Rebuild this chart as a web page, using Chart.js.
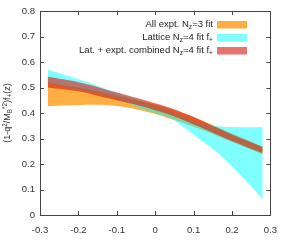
<!DOCTYPE html>
<html><head><meta charset="utf-8">
<script src="https://cdn.jsdelivr.net/npm/chart.js@4"></script>
<style>html,body{margin:0;padding:0;background:#fff}</style>
</head><body>
<canvas id="c" width="287" height="247"></canvas>
<script>
// ---- data ----
const z = [-0.28,-0.24,-0.20,-0.16,-0.12,-0.08,-0.04,0.00,0.04,0.08,0.12,0.16,0.20,0.24,0.28];
const exptLow  = [0.426,0.429,0.431,0.432,0.430,0.424,0.412,0.396,0.377,0.357,0.335,0.311,0.286,0.262,0.238];
const exptHigh = [0.520,0.510,0.500,0.488,0.474,0.461,0.448,0.434,0.416,0.395,0.372,0.346,0.320,0.294,0.268];
const latLow   = [0.516,0.505,0.493,0.480,0.466,0.445,0.420,0.400,0.380,0.338,0.292,0.248,0.190,0.128,0.062];
const latHigh  = [0.571,0.552,0.532,0.512,0.491,0.470,0.450,0.428,0.405,0.380,0.358,0.348,0.345,0.344,0.344];
const combLow  = [0.500,0.493,0.485,0.472,0.457,0.443,0.428,0.411,0.392,0.368,0.343,0.316,0.290,0.266,0.243];
const combHigh = [0.542,0.532,0.521,0.506,0.488,0.473,0.456,0.438,0.420,0.397,0.371,0.343,0.316,0.291,0.266];
const xTickVals = [-0.3,-0.2,-0.1,0,0.1,0.2,0.3];
const yTickVals = [0,0.1,0.2,0.3,0.4,0.5,0.6,0.7,0.8];
const legendLabels = [
  [["All expt. N",0],["z",-1],["=3 fit",0]],
  [["Lattice N",0],["z",-1],["=4 fit f",0],["+",-1]],
  [["Lat. + expt. combined N",0],["z",-1],["=4 fit f",0],["+",-1]]
];
const yTitle = [["(1-q",0],["2",1],["/M",0],["B",-1],["*2",1],[")f",0],["+",-1],["(z)",0]];

// ---- styles ----
const C_EXPT = 'rgba(255,165,45,0.9)';
const C_LAT  = 'rgba(0,255,255,0.5)';
const C_COMB = 'rgba(215,30,20,0.62)';
const FONT = 'Liberation Sans, Arial, sans-serif';
const pts = arr => arr.map((v,i)=>({x:z[i],y:v}));
function band(low, high, col, idx){
  return [
    {data:pts(low), borderWidth:0, pointRadius:0, fill:false, backgroundColor:col, tension:0.3},
    {data:pts(high), borderWidth:0, pointRadius:0, fill:{target:idx}, backgroundColor:col, tension:0.3}
  ];
}
const fmt = v => { const r = Math.round(v*10)/10; return r===0 ? '0' : String(r); };

function drawRich(ctx, segs, x, y, size, align){
  const small = size*0.7;
  let w = 0;
  segs.forEach(([t,k])=>{ ctx.font = (k? small: size)+'px '+FONT; w += ctx.measureText(t).width; });
  let cx = align==='right' ? x - w : (align==='center' ? x - w/2 : x);
  ctx.textBaseline = 'middle'; ctx.textAlign = 'left';
  segs.forEach(([t,k])=>{
    ctx.font = (k? small: size)+'px '+FONT;
    const dy = k===1 ? -size*0.35 : (k===-1 ? size*0.3 : 0);
    ctx.fillText(t, cx, y+dy);
    cx += ctx.measureText(t).width;
  });
}

const decor = {
  id:'decor',
  afterDraw(chart){
    const ctx = chart.ctx, a = chart.chartArea, xs = chart.scales.x, ys = chart.scales.y;
    ctx.save();
    ctx.strokeStyle = '#444'; ctx.lineWidth = 1;
    ctx.strokeRect(Math.round(a.left)+0.5, Math.round(a.top)+0.5, Math.round(a.right-a.left), Math.round(a.bottom-a.top));
    const tl = 4;
    ctx.beginPath();
    xTickVals.forEach(v=>{ const px = Math.round(xs.getPixelForValue(v))+0.5;
      ctx.moveTo(px,a.bottom); ctx.lineTo(px,a.bottom-tl);
      ctx.moveTo(px,a.top); ctx.lineTo(px,a.top+tl); });
    yTickVals.forEach(v=>{ const py = Math.round(ys.getPixelForValue(v))+0.5;
      ctx.moveTo(a.left,py); ctx.lineTo(a.left+tl,py);
      ctx.moveTo(a.right,py); ctx.lineTo(a.right-tl,py); });
    ctx.stroke();
    // legend
    const cols = [C_EXPT, C_LAT, C_COMB];
    const rowsY = [24.5, 37.5, 50.5];
    ctx.fillStyle = '#222';
    legendLabels.forEach((segs,i)=>{
      ctx.fillStyle = cols[i];
      ctx.fillRect(217, rowsY[i]-3.5, 30, 7.5);
      ctx.fillStyle = '#222';
      drawRich(ctx, segs, 213, rowsY[i], 9.5, 'right');
    });
    // y title
    ctx.translate(8, 113); ctx.rotate(-Math.PI/2);
    ctx.fillStyle = '#333';
    drawRich(ctx, yTitle, 0, 0, 9, 'center');
    ctx.restore();
  }
};

new Chart(document.getElementById('c'), {
  type:'line',
  data:{ datasets:[
    ...band(combLow, combHigh, C_COMB, 0),
    ...band(latLow, latHigh, C_LAT, 2),
    ...band(exptLow, exptHigh, C_EXPT, 4)
  ]},
  options:{
    responsive:false, animation:false, devicePixelRatio:1,
    layout:{padding:{top:11, right:7, left:0, bottom:0}},
    plugins:{legend:{display:false}, tooltip:{enabled:false}},
    scales:{
      x:{type:'linear', min:-0.3, max:0.3,
         afterBuildTicks: s => { s.ticks = xTickVals.map(v=>({value:v})); },
         afterFit: s => { s.height = 32; },
         grid:{display:false, drawTicks:false}, border:{display:false},
         ticks:{padding:10, color:'#333', font:{family:FONT, size:9.5}, callback:v=>fmt(v), maxRotation:0}},
      y:{type:'linear', min:0, max:0.8,
         afterBuildTicks: s => { s.ticks = yTickVals.map(v=>({value:v})); },
         afterFit: s => { s.width = 40; },
         grid:{display:false, drawTicks:false}, border:{display:false},
         ticks:{padding:5, color:'#333', font:{family:FONT, size:9.5}, callback:v=>fmt(v)}}
    }
  },
  plugins:[decor]
});
</script>
</body></html>
